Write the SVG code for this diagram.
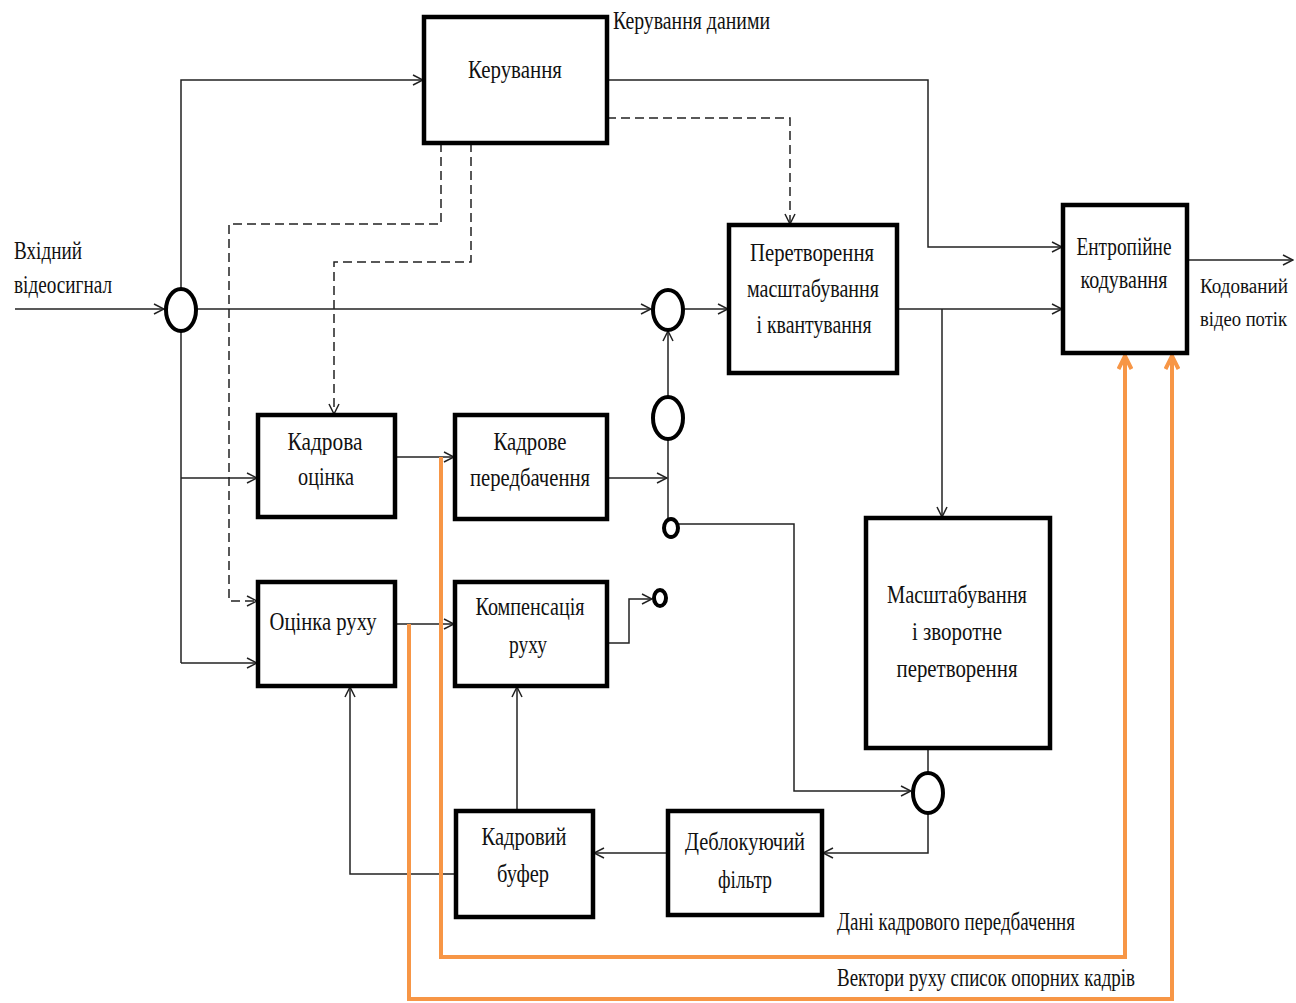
<svg xmlns="http://www.w3.org/2000/svg" width="1296" height="1003" viewBox="0 0 1296 1003">
<defs>
<style>
.box{fill:#fff;stroke:#000;stroke-width:4.5}
.circ{fill:#fff;stroke:#000;stroke-width:4}
.ln{fill:none;stroke:#222;stroke-width:1.5}
.ds{fill:none;stroke:#222;stroke-width:1.5;stroke-dasharray:9,5}
.or{fill:none;stroke:#F79646;stroke-width:4}
text{font-family:"Liberation Serif","Times New Roman",serif;font-size:26px;fill:#111}
.c{text-anchor:middle}
.sm{font-size:20px}
</style>
<marker id="a" viewBox="0 0 12 12" refX="11" refY="6" markerWidth="12" markerHeight="12" markerUnits="userSpaceOnUse" orient="auto"><path d="M1,1 L11,6 L1,11" fill="none" stroke="#222" stroke-width="1.5"/></marker>
<marker id="o" viewBox="0 0 16 16" refX="15" refY="8" markerWidth="16" markerHeight="16" markerUnits="userSpaceOnUse" orient="auto"><path d="M1,1.5 L14,8 L1,14.5" fill="none" stroke="#F79646" stroke-width="4"/></marker>
</defs>
<rect width="1296" height="1003" fill="#fff"/>
<g id="connectors">
<path class="ln" d="M15,309 H164" marker-end="url(#a)"/>
<path class="ln" d="M181,663 V80 H423" marker-end="url(#a)"/>
<path class="ln" d="M181,663 H257" marker-end="url(#a)"/>
<path class="ln" d="M181,478 H257" marker-end="url(#a)"/>
<path class="ln" d="M197,309 H651" marker-end="url(#a)"/>
<path class="ln" d="M684,309 H728" marker-end="url(#a)"/>
<path class="ln" d="M607,80 H928 V247 H1062" marker-end="url(#a)"/>
<path class="ds" d="M607,118 H790 V224" marker-end="url(#a)"/>
<path class="ln" d="M897,309 H1062" marker-end="url(#a)"/>
<path class="ln" d="M942,309 V517" marker-end="url(#a)"/>
<path class="ln" d="M668,397 V331" marker-end="url(#a)"/>
<path class="ln" d="M668,440 V518"/>
<path class="ln" d="M607,478 H667" marker-end="url(#a)"/>
<path class="ln" d="M679,524 H794 V791 H911" marker-end="url(#a)"/>
<path class="ln" d="M928,748 V773"/>
<path class="ln" d="M928,813 V853 H823" marker-end="url(#a)"/>
<path class="ln" d="M668,853 H594" marker-end="url(#a)"/>
<path class="ln" d="M517,811 V687" marker-end="url(#a)"/>
<path class="ln" d="M456,874 H350 V687" marker-end="url(#a)"/>
<path class="ln" d="M395,457 H454" marker-end="url(#a)"/>
<path class="ln" d="M395,624 H454" marker-end="url(#a)"/>
<path class="ln" d="M607,643 H629 V599 H652" marker-end="url(#a)"/>
<path class="ds" d="M441,143 V224 H229 V601 H257" marker-end="url(#a)"/>
<path class="ds" d="M471,143 V262 H334 V414" marker-end="url(#a)"/>
<path class="ln" d="M1187,260 H1293" marker-end="url(#a)"/>
<path class="or" d="M441,457 V957 H1125 V355" marker-end="url(#o)"/>
<path class="or" d="M409,624 V999 H1172 V355" marker-end="url(#o)"/>
</g>
<g id="n-keruvannia"><rect class="box" x="424" y="17" width="183" height="126"/><text class="c" x="515" y="78" textLength="94" lengthAdjust="spacingAndGlyphs">Керування</text></g>
<g id="n-peretvorennia"><rect class="box" x="729" y="225" width="168" height="148"/>
<text class="c" x="812" y="261" textLength="124" lengthAdjust="spacingAndGlyphs">Перетворення</text>
<text class="c" x="813" y="297" textLength="132" lengthAdjust="spacingAndGlyphs">масштабування</text>
<text class="c" x="814" y="333" textLength="115" lengthAdjust="spacingAndGlyphs">і квантування</text></g>
<g id="n-entropy"><rect class="box" x="1063" y="205" width="124" height="148"/>
<text class="c" x="1124" y="255" textLength="95" lengthAdjust="spacingAndGlyphs">Ентропійне</text>
<text class="c" x="1124" y="288" textLength="87" lengthAdjust="spacingAndGlyphs">кодування</text></g>
<g id="n-kadrova-otsinka"><rect class="box" x="258" y="415" width="137" height="102"/>
<text class="c" x="325" y="450" textLength="75" lengthAdjust="spacingAndGlyphs">Кадрова</text>
<text class="c" x="326" y="485" textLength="56" lengthAdjust="spacingAndGlyphs">оцінка</text></g>
<g id="n-kadrove-peredbachennia"><rect class="box" x="455" y="415" width="152" height="104"/>
<text class="c" x="530" y="450" textLength="73" lengthAdjust="spacingAndGlyphs">Кадрове</text>
<text class="c" x="530" y="486" textLength="120" lengthAdjust="spacingAndGlyphs">передбачення</text></g>
<g id="n-otsinka-rukhu"><rect class="box" x="258" y="582" width="137" height="104"/>
<text class="c" x="323" y="630" textLength="107" lengthAdjust="spacingAndGlyphs">Оцінка руху</text></g>
<g id="n-kompensatsiia"><rect class="box" x="455" y="582" width="152" height="104"/>
<text class="c" x="530" y="615" textLength="109" lengthAdjust="spacingAndGlyphs">Компенсація</text>
<text class="c" x="528" y="653" textLength="38" lengthAdjust="spacingAndGlyphs">руху</text></g>
<g id="n-masshtabuvannia"><rect class="box" x="866" y="518" width="184" height="230"/>
<text class="c" x="957" y="603" textLength="140" lengthAdjust="spacingAndGlyphs">Масштабування</text>
<text class="c" x="957" y="640" textLength="90" lengthAdjust="spacingAndGlyphs">і зворотне</text>
<text class="c" x="957" y="677" textLength="121" lengthAdjust="spacingAndGlyphs">перетворення</text></g>
<g id="n-deblok"><rect class="box" x="668" y="811" width="154" height="104"/>
<text class="c" x="745" y="850" textLength="120" lengthAdjust="spacingAndGlyphs">Деблокуючий</text>
<text class="c" x="745" y="888" textLength="54" lengthAdjust="spacingAndGlyphs">фільтр</text></g>
<g id="n-bufer"><rect class="box" x="456" y="811" width="137" height="106"/>
<text class="c" x="524" y="845" textLength="85" lengthAdjust="spacingAndGlyphs">Кадровий</text>
<text class="c" x="523" y="882" textLength="52" lengthAdjust="spacingAndGlyphs">буфер</text></g>
<g id="n-sum1"><ellipse class="circ" cx="181" cy="310" rx="15" ry="21"/></g>
<g id="n-sum2"><ellipse class="circ" cx="668" cy="310" rx="15" ry="20"/></g>
<g id="n-sum3"><ellipse class="circ" cx="668" cy="418" rx="15" ry="21"/></g>
<g id="n-sw1"><ellipse class="circ" cx="671" cy="528" rx="7" ry="9"/></g>
<g id="n-sw2"><ellipse class="circ" cx="660" cy="598" rx="6" ry="8"/></g>
<g id="n-sum4"><ellipse class="circ" cx="928" cy="793" rx="15" ry="20"/></g>
<g id="labels">
<text x="613" y="29" textLength="157" lengthAdjust="spacingAndGlyphs">Керування даними</text>
<text x="14" y="259" textLength="68" lengthAdjust="spacingAndGlyphs">Вхідний</text>
<text x="14" y="293" textLength="98" lengthAdjust="spacingAndGlyphs">відеосигнал</text>
<text class="sm" x="1200" y="293" textLength="88" lengthAdjust="spacingAndGlyphs">Кодований</text>
<text class="sm" x="1200" y="326" textLength="87" lengthAdjust="spacingAndGlyphs">відео потік</text>
<text x="837" y="930" textLength="238" lengthAdjust="spacingAndGlyphs">Дані кадрового передбачення</text>
<text x="837" y="986" textLength="298" lengthAdjust="spacingAndGlyphs">Вектори руху список опорних кадрів</text>
</g>
</svg>
